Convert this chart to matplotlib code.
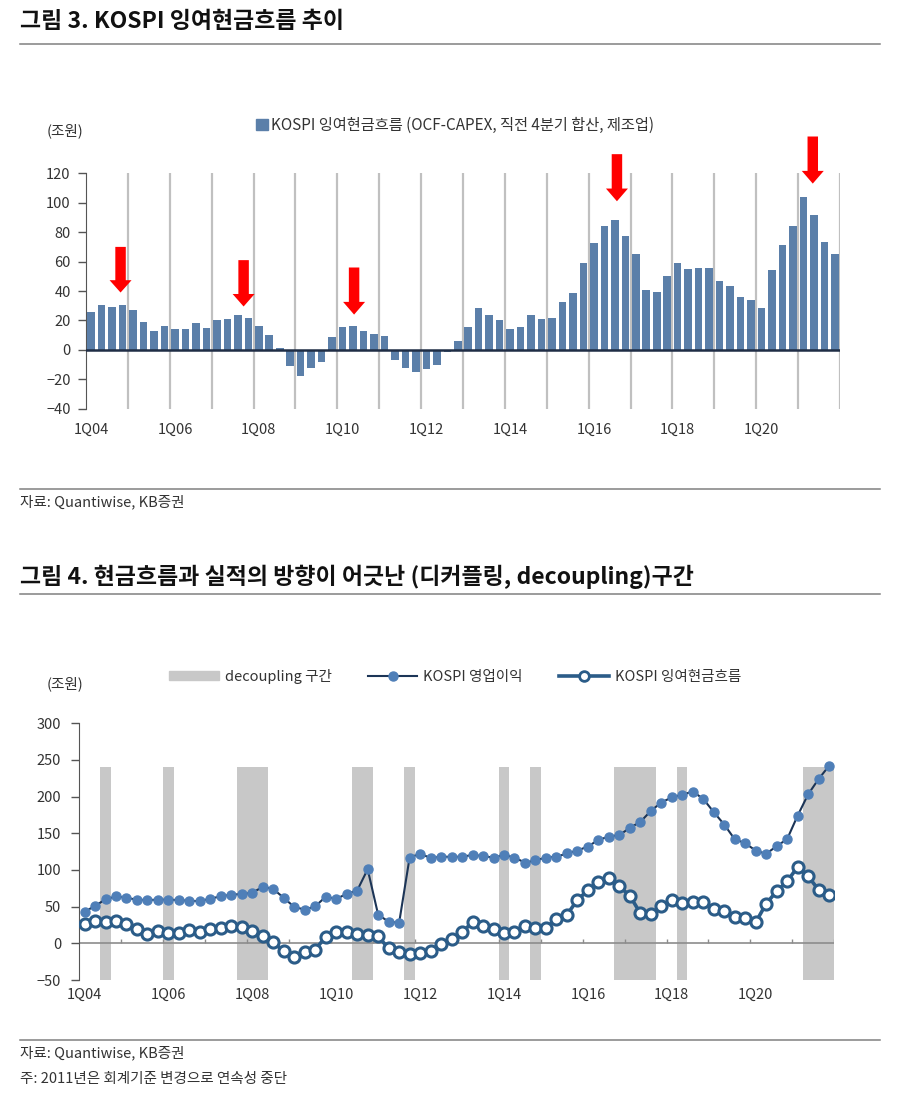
import numpy as np
import matplotlib
matplotlib.use("Agg")
import matplotlib.pyplot as plt
from matplotlib.lines import Line2D
from matplotlib.patches import Patch, FancyArrow

plt.rcParams['font.family'] = ['Noto Sans CJK KR', 'DejaVu Sans']
plt.rcParams['axes.unicode_minus'] = True

# quarters 1Q04 ~ 4Q21
quarters = ["%dQ%02d" % (q, y) for y in range(4, 22) for q in range(1, 5)]

# KOSPI 잉여현금흐름 (OCF-CAPEX, 직전 4분기 합산, 제조업), 조원
fcf = [26, 30.5, 29.5, 30.5, 27, 19, 13, 16.5, 14, 14, 18.5, 15,
       20, 21, 23.5, 22, 16.5, 10, 1.5, -11, -18, -12, -8.5, 9,
       15.5, 16, 13, 11, 9.5, -7, -12, -15, -13, -10, -1.5, 6.2,
       15.5, 28.5, 24, 20, 14, 15.5, 23.5, 21, 21.5, 32.5, 39, 59,
       72.5, 84, 88.5, 77.5, 65, 41, 39.5, 50.5, 59, 55, 56, 56,
       47, 43.5, 36, 34, 28.5, 54, 71, 84.5, 104, 91.5, 73, 65.5]

# KOSPI 영업이익, 조원
op_profit = [43, 51, 60, 64, 62, 59.5, 59, 59.5, 59.5, 59, 58, 57.5,
             61, 64, 66.5, 67, 69, 77, 74, 62, 49.5, 46, 50.5, 63.5,
             60.5, 67.5, 72, 101, 39, 29.5, 28, 117, 122, 116.5, 118, 118,
             118, 120.5, 119, 116.8, 120.5, 117, 110, 113, 117, 118, 122.5, 126.5,
             132, 141, 145.5, 147.5, 157.5, 165.5, 180.5, 192, 199, 202.5, 207, 197,
             179, 162, 142, 136.5, 126.5, 122, 132.5, 142, 174, 203, 224, 242]

# decoupling 구간 (first quarter index, number of quarters)
decoupling = [(2, 1), (8, 1), (15, 3), (26, 2), (31, 1), (40, 1),
              (43, 1), (51, 4), (57, 1), (69, 3)]

# red arrows on fig 3: x position (quarter index), top and tip values
arrow_x = [2.8, 14.55, 25.1, 50.2, 68.9]
arrow_top = [70, 61, 56, 133, 145]
arrow_tip = [39, 29.5, 24, 101, 113]

bar_color = '#5b7fa9'
text_color = '#333333'
W, H = 900, 1107

fig = plt.figure(figsize=(W / 100, H / 100), dpi=100)


def fx(px):
	return px / W


def fy(py):
	return 1 - py / H


def rule(py):
	fig.add_artist(Line2D([fx(20), fx(880)], [fy(py), fy(py)], color='#808080', lw=1.1,
						  transform=fig.transFigure))


x = np.arange(len(quarters))
label_idx = x[::8]

# ---------------- 그림 3 ----------------
fig.text(fx(20), fy(22), "그림 3. KOSPI 잉여현금흐름 추이", fontsize=16.5, fontweight='bold',
		 color='#111111', va='center', ha='left')
rule(44)

ax1 = fig.add_axes([fx(86), fy(408.8), fx(840) - fx(86), (408.8 - 173.3) / H])
ax1.bar(x, fcf, width=0.72, color=bar_color, zorder=3)
ax1.axhline(0, color='#1f2d45', lw=1.8, zorder=4)
for b in np.arange(3.5, len(quarters), 4):
	ax1.axvline(b, color='#c0c0c0', lw=1.6, zorder=1)
ax1.set_xlim(-0.5, len(quarters) - 0.5)
ax1.set_ylim(-40, 120)
ax1.set_yticks(np.arange(-40, 121, 20))
ax1.set_xticks(label_idx)
ax1.set_xticklabels([quarters[i] for i in label_idx])
ax1.tick_params(axis='x', length=0, pad=10, labelsize=10.5, colors=text_color)
ax1.tick_params(axis='y', length=6, width=1, pad=5, labelsize=10.5, colors=text_color,
				color='#555555')
for s in ['top', 'right', 'bottom']:
	ax1.spines[s].set_visible(False)
ax1.spines['left'].set_color('#555555')

for ax_, top_, tip_ in zip(arrow_x, arrow_top, arrow_tip):
	head = (top_ - tip_) * 0.27
	ax1.add_patch(FancyArrow(ax_, top_, 0, -(top_ - tip_), width=1.0, head_width=2.1,
							 head_length=head, length_includes_head=True,
							 color='#ff0000', lw=0, clip_on=False, zorder=6))

fig.text(fx(47), fy(131), "(조원)", fontsize=10.5, color=text_color, va='center')
ax1.legend(handles=[Patch(color=bar_color, label="KOSPI 잉여현금흐름 (OCF-CAPEX, 직전 4분기 합산, 제조업)")],
		   loc='center', bbox_to_anchor=(fx(455), fy(125)), bbox_transform=fig.transFigure,
		   frameon=False, fontsize=11, handlelength=0.75, handleheight=0.75,
		   handletextpad=0.2, labelcolor=text_color)

rule(489)
fig.text(fx(20), fy(502), "자료: Quantiwise, KB증권", fontsize=10.5, color=text_color, va='center')

# ---------------- 그림 4 ----------------
fig.text(fx(20), fy(577), "그림 4. 현금흐름과 실적의 방향이 어긋난 (디커플링, decoupling)구간",
		 fontsize=16.5, fontweight='bold', color='#111111', va='center', ha='left')
rule(594)

ax2 = fig.add_axes([fx(79.3), fy(980), fx(834.3) - fx(79.3), (980 - 723.3) / H])
for start, n in decoupling:
	ax2.bar(start + (n - 1) / 2, 290, bottom=-50, width=n, color='#c8c8c8', lw=0, zorder=1)
ax2.axhline(0, color='#8c8c8c', lw=1.2, zorder=2)
# small year ticks on the zero line
ax2.vlines(np.arange(3.5, len(quarters), 4), 0, 6, color='#8c8c8c', lw=1, zorder=2)
ax2.plot(x, op_profit, color='#1c3557', lw=1.5, marker='o', markersize=6.5,
		 markerfacecolor='#4f7fb8', markeredgecolor='#4f7fb8', zorder=4)
ax2.plot(x, fcf, color='#2b5c88', lw=2.6, marker='o', markersize=8,
		 markerfacecolor='white', markeredgecolor='#2b5c88', markeredgewidth=2.2, zorder=3)
ax2.set_xlim(-0.5, len(quarters) - 0.5)
ax2.set_ylim(-50, 300)
ax2.set_yticks(np.arange(-50, 301, 50))
ax2.set_xticks(label_idx)
ax2.set_xticklabels([quarters[i] for i in label_idx])
ax2.tick_params(axis='x', length=0, pad=6, labelsize=10.5, colors=text_color)
ax2.tick_params(axis='y', length=6, width=1, pad=7, labelsize=10.5, colors=text_color,
				color='#555555')
for s in ['top', 'right', 'bottom']:
	ax2.spines[s].set_visible(False)
ax2.spines['left'].set_color('#555555')

fig.text(fx(47), fy(684), "(조원)", fontsize=10.5, color=text_color, va='center')
handles = [Patch(color='#c8c8c8', label='decoupling 구간'),
		   Line2D([], [], color='#1c3557', lw=1.5, marker='o', markersize=6.5,
				  markerfacecolor='#4f7fb8', markeredgecolor='#4f7fb8', label='KOSPI 영업이익'),
		   Line2D([], [], color='#2b5c88', lw=2.6, marker='o', markersize=7,
				  markerfacecolor='white', markeredgecolor='#2b5c88', markeredgewidth=2,
				  label='KOSPI 잉여현금흐름')]
ax2.legend(handles=handles, loc='center', bbox_to_anchor=(fx(455), fy(676)),
		   bbox_transform=fig.transFigure, ncol=3, frameon=False, fontsize=10.5,
		   handlelength=3.4, handleheight=0.6, handletextpad=0.4, columnspacing=2.5,
		   labelcolor=text_color)

rule(1040)
fig.text(fx(20), fy(1053), "자료: Quantiwise, KB증권", fontsize=10.5, color=text_color, va='center')
fig.text(fx(20), fy(1079), "주: 2011년은 회계기준 변경으로 연속성 중단", fontsize=10.5,
		 color=text_color, va='center')

fig.savefig("out.png", dpi=100)
